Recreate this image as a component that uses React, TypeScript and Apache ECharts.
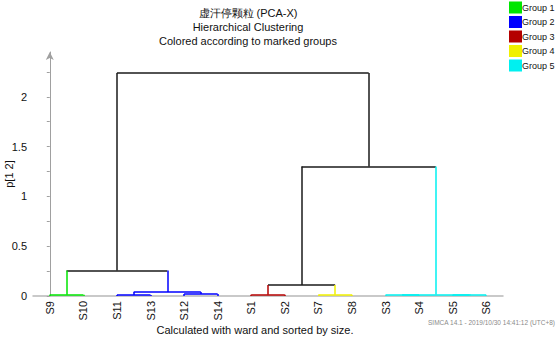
import React, { useEffect, useRef } from "react";
import * as echarts from "echarts";

// Leaves in dendrogram order
const leaves = ["S9", "S10", "S11", "S13", "S12", "S14", "S1", "S2", "S7", "S8", "S3", "S4", "S5", "S6"];
// Group index of each leaf (0-based: Group 1..5)
const leafGroups = [0, 0, 1, 1, 1, 1, 2, 2, 3, 3, 4, 4, 4, 4];
const groupNames = ["Group 1", "Group 2", "Group 3", "Group 4", "Group 5"];
const groupColors = ["#00e600", "#0000ff", "#b40000", "#f0f000", "#00f0f0"];
// Merges: [left node, right node, height]; nodes 0..13 are leaves, 14+ are merges in order
const mergeLeft = [0, 2, 4, 15, 6, 8, 10, 12, 20, 14, 18, 24, 23];
const mergeRight = [1, 3, 5, 16, 7, 9, 11, 13, 21, 17, 19, 22, 25];
const mergeHeight = [0.012, 0.01, 0.02, 0.04, 0.012, 0.012, 0.008, 0.008, 0.014, 0.255, 0.11, 1.3, 2.24];

const yTicks = [0, 0.25, 0.5, 0.75, 1, 1.25, 1.5, 1.75, 2, 2.25];
const yLabels = [0, 0.5, 1, 1.5, 2];
const leafIdx = leaves.map((_, i) => i);

const titleLines = ["虚汗停颗粒 (PCA-X)", "Hierarchical Clustering", "Colored according to marked groups"];
const footer = "Calculated with ward and sorted by size.";
const stamp = "SIMCA 14.1 - 2019/10/30 14:41:12 (UTC+8)";

const FONT = "'Liberation Sans', Arial, sans-serif";

function buildSegments() {
  const xs: number[] = leaves.map((_, i) => i);
  const hs: number[] = leaves.map(() => 0);
  const grp: number[] = leafGroups.slice();
  const segs: { group: number; coords: number[][] }[] = [];
  for (let m = 0; m < mergeHeight.length; m++) {
    const l = mergeLeft[m];
    const r = mergeRight[m];
    const h = mergeHeight[m];
    const g = grp[l] === grp[r] ? grp[l] : -1;
    segs.push({ group: grp[l], coords: [[xs[l], hs[l]], [xs[l], h]] });
    segs.push({ group: grp[r], coords: [[xs[r], hs[r]], [xs[r], h]] });
    segs.push({ group: g, coords: [[xs[l], h], [xs[r], h]] });
    xs.push((xs[l] + xs[r]) / 2);
    hs.push(h);
    grp.push(g);
  }
  return segs;
}

export default function App() {
  const ref = useRef<HTMLDivElement>(null);
  useEffect(() => {
    if (!ref.current) return;
    const chart = echarts.init(ref.current, null, { renderer: "svg" });
    const segs = buildSegments();
    const series: any[] = groupNames.map((name, gi) => ({
      type: "lines",
      name,
      coordinateSystem: "cartesian2d",
      z: 3,
      lineStyle: { color: groupColors[gi], width: 1.5, opacity: 1 },
      itemStyle: { color: groupColors[gi] },
      data: segs.filter((s) => s.group === gi).map((s) => ({ coords: s.coords })),
    }));
    series.push({
      type: "lines",
      name: "links",
      coordinateSystem: "cartesian2d",
      z: 2,
      lineStyle: { color: "#1a1a1a", width: 1.5, opacity: 1 },
      data: segs.filter((s) => s.group === -1).map((s) => ({ coords: s.coords })),
    });
    chart.setOption({
      animation: false,
      textStyle: { fontFamily: FONT },
      title: {
        text: titleLines.join("\n"),
        left: 243,
        top: 1,
        textAlign: "center",
        textStyle: { fontSize: 11, fontWeight: "normal", color: "#111", lineHeight: 13.8, fontFamily: FONT },
      },
      legend: {
        orient: "vertical",
        left: 509,
        top: 1.5,
        padding: 0,
        itemWidth: 11,
        itemHeight: 10,
        itemGap: 2.5,
        icon: "rect",
        selectedMode: false,
        data: groupNames.map((n, i) => ({ name: n, itemStyle: { color: groupColors[i] } })),
        textStyle: { fontSize: 9, color: "#111", fontFamily: FONT, padding: [0, 0, 0, -4] },
      },
      grid: { left: 33, right: 53, top: 52, bottom: 42, containLabel: false, outerBoundsMode: "none" },
      xAxis: {
        type: "value",
        min: -0.5,
        max: 13.5,
        splitLine: { show: false },
        axisTick: { show: false },
        axisLine: { show: true, lineStyle: { color: "#b8b8b8", width: 1.5 } },
        axisLabel: {
          customValues: leafIdx,
          formatter: (v: number) => leaves[Math.round(v)] ?? "",
          rotate: 90,
          fontSize: 11,
          color: "#111",
          margin: 5,
          fontFamily: FONT,
        },
      },
      yAxis: {
        type: "value",
        min: 0,
        max: 2.45,
        name: "p[1 2]",
        nameLocation: "middle",
        nameGap: 19,
        nameMoveOverlap: false,
        nameTextStyle: { fontSize: 11, color: "#111", fontFamily: FONT },
        splitLine: { show: false },
        axisLine: {
          show: true,
          lineStyle: { color: "#a0a0a0", width: 1 },
          symbol: ["none", "arrow"],
          symbolSize: [6, 8],
        },
        axisTick: { show: true, customValues: yTicks, length: 3, lineStyle: { color: "#a0a0a0" } },
        axisLabel: {
          customValues: yLabels,
          fontSize: 11,
          color: "#111",
          margin: 6,
          fontFamily: FONT,
          formatter: (v: number) => String(v),
        },
      },
      graphic: [
        {
          type: "text",
          x: 255,
          y: 330,
          style: { text: footer, fontSize: 11, fill: "#111", align: "center", verticalAlign: "middle", fontFamily: FONT },
        },
        {
          type: "text",
          x: 555,
          y: 322,
          style: { text: stamp, fontSize: 6.5, fill: "#8a8a8a", align: "right", verticalAlign: "middle", fontFamily: FONT },
        },
      ],
      series,
    });
    return () => chart.dispose();
  }, []);
  return <div ref={ref} style={{ width: 556, height: 338, position: "absolute", left: 0, top: 0 }} />;
}
